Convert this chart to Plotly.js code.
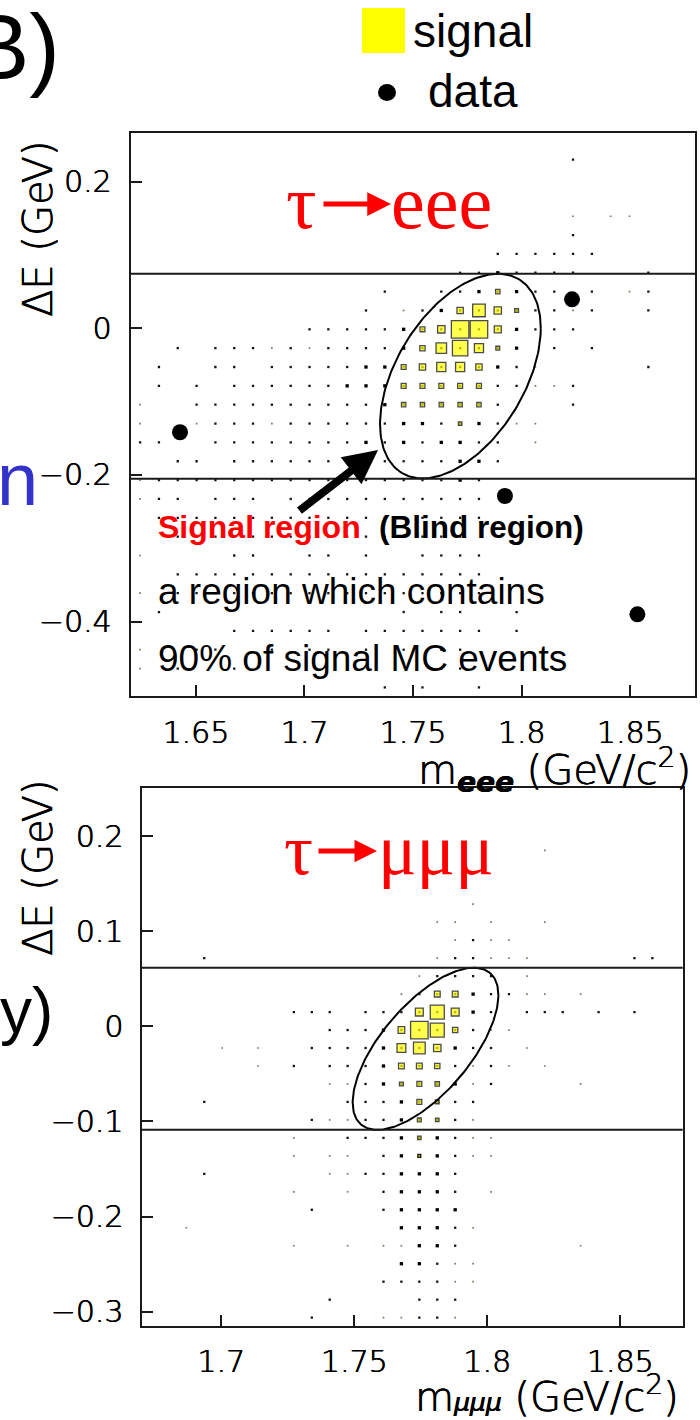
<!DOCTYPE html>
<html>
<head>
<meta charset="utf-8">
<script src="https://cdn.plot.ly/plotly-3.0.1.min.js"></script>
<style>
  html, body { margin: 0; padding: 0; background: #ffffff; }
  #plot { width: 700px; height: 1420px; }
</style>
</head>
<body>
<div id="plot"></div>
<script>
// ---------------- τ → eee : ΔE versus m(eee) ----------------
const eeeMassRange = [1.62, 1.88];
const eeeDeltaERange = [-0.5014, 0.2667];
const eeeMassTicks = [1.65, 1.7, 1.75, 1.8, 1.85];
const eeeDeltaETicks = [-0.4, -0.2, 0, 0.2];
const eeeDeltaELabels = ['\u22120.4', '\u22120.2', '0', '0.2'];
// histogram binning: 30 × 30 cells, rows counted from the row at ΔE ≈ 0
const eeeBinsM = { start: 1.62, width: 0.008667 };
const eeeBinsE = { zeroRow: -0.0014, width: 0.0257, topRow: 10 };
// background MC occupancy per cell (0 empty, 1 faint, 2 normal, 3 dense), rows top → bottom
const eeeBackground = [
  "0000000000 0000000000 0000000000",
  "0000000000 0000000000 0002000000",
  "0000000000 0000000000 0000000000",
  "0000000000 0000000000 0000000000",
  "0000000000 0000000000 0001011000",
  "0000000000 0000000000 0002000000",
  "0000000000 0000000002 2222200000",
  "0000000000 0000000223 2222000200",
  "0000000000 0002002232 3220201200",
  "0000000000 0020123222 2221200200",
  "0000000002 2222322222 3222000000",
  "0020222121 2222322222 3020200000",
  "0200220222 2233222223 2100000200",
  "0202022222 2333222222 2112000000",
  "1002222222 2223222222 0002000000",
  "1001222122 2222332232 1100000000",
  "2200222222 2232323322 0100000000",
  "0022022222 2222222332 0000000000",
  "1222222222 2222222320 0000000000",
  "1220222022 2222222220 0000000000",
  "0222222222 2222222220 0000000000",
  "0022222222 2222222200 0000000000",
  "1000022002 2020022220 0000000000",
  "0022222222 2222222220 0000000000",
  "1022222222 2222222220 0000000000",
  "0200000000 0000202200 2000000000",
  "0000022222 2022222220 2000000000",
  "1002200202 2020202200 0000000000",
  "1020020000 0000002200 0000000000",
  "0000000000 0002020020 0000000000"
];
// signal MC cells: [column, row, relative content]
const eeeSignal = [
  [17, 0, 100], [18, 0, 100], [17, -1, 88], [18, 1, 72], [16, -1, 60],
  [16, -2, 52], [17, -2, 52], [18, -1, 52], [16, 0, 42], [19, 0, 40],
  [19, 1, 42], [17, 1, 36], [15, -1, 30], [15, -2, 36], [18, -2, 36],
  [15, 0, 28], [14, -2, 28], [14, -3, 28], [15, -3, 28], [16, -3, 28],
  [17, -3, 28], [18, -3, 28], [14, -4, 25], [15, -4, 25], [16, -4, 25],
  [17, -4, 25], [18, -4, 25], [19, -1, 22], [19, 2, 25], [20, 1, 22],
  [17, -5, 20]
];
// observed events outside the blind box
const eeeDataMass = [1.6427, 1.8232, 1.7923, 1.8533];
const eeeDataDeltaE = [-0.1418, 0.0395, -0.2287, -0.3900];
// signal region boundaries and the 90% ellipse
const eeeBand = [-0.2050, 0.0745];
const eeeEllipse = { m: 1.7718, dE: -0.0652, halfM: 0.0370, halfDE: 0.1395, rho: 0.469 };

// ---------------- τ → μμμ : ΔE versus m(μμμ) ----------------
const mmmMassRange = [1.67, 1.8735];
const mmmDeltaERange = [-0.3151, 0.2506];
const mmmMassTicks = [1.7, 1.75, 1.8, 1.85];
const mmmDeltaETicks = [-0.3, -0.2, -0.1, 0, 0.1, 0.2];
const mmmDeltaELabels = ['\u22120.3', '\u22120.2', '\u22120.1', '0', '0.1', '0.2'];
const mmmBinsM = { start: 1.67, width: 0.00674 };
const mmmBinsE = { zeroRow: -0.0039, width: 0.0189, topRow: 13 };
const mmmBackground = [
  "0000000000 0000000000 0000000000",
  "0000000000 0000000000 0000000000",
  "0000000000 0000000000 0000000000",
  "0000000000 0000000000 0010000000",
  "0000000000 0000000000 0000000000",
  "0000000000 0000000000 0000000000",
  "0000000000 0000000010 0000000000",
  "0000000000 0000001101 0010000000",
  "0000000000 0000000121 1000000000",
  "0002000000 0000001221 1100000220",
  "0000000000 0000012222 0100000000",
  "0000000000 0000122232 2110100000",
  "0000000022 2022222232 0222020200",
  "0000000000 2223222221 1000000000",
  "0000101002 2223222322 0100000000",
  "0000001020 2223222212 1010000000",
  "0000000000 1123222312 0000100000",
  "0002000000 0222323220 0000000000",
  "0000000002 1122322210 0000000000",
  "0000000010 0222323211 0000000000",
  "0000000010 1102333211 0000000000",
  "0002000000 1122333200 0000000000",
  "0000000010 0102333201 0000000000",
  "0000000002 0002333300 0000000000",
  "0010000000 0000333210 0000000000",
  "0000000010 0101133200 0000100000",
  "0000000000 0000332110 0000000000",
  "0000000000 0002222110 0000000000",
  "0000000000 2000022200 0000000000",
  "0000000002 0001122100 0000000000"
];
const mmmSignal = [
  [15, 0, 100], [16, 1, 80], [16, 0, 80], [15, -1, 67], [14, -1, 50],
  [15, 1, 45], [17, 1, 45], [14, 0, 38], [16, -1, 42], [17, 0, 30],
  [16, 2, 33], [17, 2, 33], [14, -2, 33], [15, -2, 33], [16, -2, 30],
  [14, -3, 22], [15, -3, 28], [16, -3, 25], [15, -4, 28], [16, -4, 22],
  [15, -5, 22], [16, -5, 20], [15, -6, 20], [15, -7, 18]
];
const mmmBand = [-0.1088, 0.0616];
const mmmEllipse = { m: 1.7768, dE: -0.0236, halfM: 0.0274, halfDE: 0.0852, rho: 0.662 };

// ---------------- drawing helpers ----------------
const W = 700, H = 1420;
const px = v => v / W;            // horizontal pixel → paper
const py = v => 1 - v / H;        // vertical pixel → paper

const dotStyle = {
  1: { size: 1.7, color: '#7a7a5c' },
  2: { size: 2.3, color: '#141414' },
  3: { size: 3.3, color: '#000000' }
};

function backgroundTraces(rows, bm, be, xa, ya) {
  const pts = { 1: { x: [], y: [] }, 2: { x: [], y: [] }, 3: { x: [], y: [] } };
  rows.forEach((row, r) => {
    const cells = row.replace(/ /g, '');
    const k = be.topRow - r;
    for (let i = 0; i < cells.length; i++) {
      const lv = Number(cells[i]);
      if (lv > 0) {
        pts[lv].x.push(bm.start + (i + 0.5) * bm.width);
        pts[lv].y.push(be.zeroRow + k * be.width);
      }
    }
  });
  return [1, 2, 3].map(lv => ({
    type: 'scatter', mode: 'markers', xaxis: xa, yaxis: ya,
    x: pts[lv].x, y: pts[lv].y, hoverinfo: 'skip',
    marker: { symbol: 'square', size: dotStyle[lv].size, color: dotStyle[lv].color, line: { width: 0 } }
  }));
}

function signalTrace(cells, bm, be, xa, ya) {
  return {
    type: 'scatter', mode: 'markers', xaxis: xa, yaxis: ya, hoverinfo: 'skip',
    x: cells.map(c => bm.start + (c[0] + 0.5) * bm.width),
    y: cells.map(c => be.zeroRow + c[1] * be.width),
    marker: {
      symbol: 'square', color: '#ffff00',
      size: cells.map(c => c[2] / 100 * 17.5),
      line: { color: '#000000', width: 1.3 }
    }
  };
}

function ellipseTrace(e, xa, ya) {
  const x = [], y = [], s = Math.sqrt(1 - e.rho * e.rho);
  for (let n = 0; n <= 240; n++) {
    const t = 2 * Math.PI * n / 240;
    x.push(e.m + e.halfM * Math.cos(t));
    y.push(e.dE + e.halfDE * (e.rho * Math.cos(t) + s * Math.sin(t)));
  }
  return { type: 'scatter', mode: 'lines', x, y, xaxis: xa, yaxis: ya, hoverinfo: 'skip',
           line: { color: '#000000', width: 2 } };
}

const traces = [
  ...backgroundTraces(eeeBackground, eeeBinsM, eeeBinsE, 'x', 'y'),
  signalTrace(eeeSignal, eeeBinsM, eeeBinsE, 'x', 'y'),
  ellipseTrace(eeeEllipse, 'x', 'y'),
  { type: 'scatter', mode: 'markers', x: eeeDataMass, y: eeeDataDeltaE, xaxis: 'x', yaxis: 'y',
    hoverinfo: 'skip', marker: { symbol: 'circle', size: 16, color: '#000000' } },
  ...backgroundTraces(mmmBackground, mmmBinsM, mmmBinsE, 'x2', 'y2'),
  signalTrace(mmmSignal, mmmBinsM, mmmBinsE, 'x2', 'y2'),
  ellipseTrace(mmmEllipse, 'x2', 'y2')
];

const thinInk = '0.45px 0 0 #000, -0.3px 0 0 #000';
const tickFont = { family: 'DejaVu Sans', size: 30, color: '#000000', weight: 200, shadow: thinInk };
const titleFont = { family: 'DejaVu Sans', size: 40, color: '#000000', weight: 200, shadow: thinInk };
const sansFont = size => ({ family: 'Liberation Sans', size, color: '#000000' });
const serifRed = size => ({ family: 'Liberation Serif', size, color: '#ff0000' });

function axisBase(extra) {
  return Object.assign({
    showline: true, linecolor: '#1a1a1a', linewidth: 2, mirror: true,
    ticks: 'inside', ticklen: 11, tickwidth: 2, tickcolor: '#1a1a1a',
    showgrid: false, zeroline: false, fixedrange: true, tickfont: tickFont
  }, extra);
}

function note(text, x, y, xanchor, font, extra) {
  return Object.assign({ text, x: px(x), y: py(y), xref: 'paper', yref: 'paper',
    xanchor, yanchor: 'middle', showarrow: false, font }, extra || {});
}

// a bare arrow drawn in page pixels, from (x0, y) to the tip (x1, y)
function titleArrow(x0, x1, y, width, size) {
  return { text: '', xref: 'paper', yref: 'paper', x: px(x1), y: py(y), ax: x0 - x1, ay: 0,
    showarrow: true, arrowhead: 2, arrowwidth: width, arrowsize: size, arrowcolor: '#ff0000', standoff: 0 };
}

const annotations = [
  note('B)', 62, 47, 'right', sansFont(92)),
  note('signal', 411, 31, 'left', sansFont(46)),
  note('data', 426, 91, 'left', sansFont(46)),
  note('n', 40, 479, 'right', { family: 'Liberation Sans', size: 74, color: '#3333cc' }),
  note('y)', 55, 1011, 'right', sansFont(64)),
  // τ → eee
  note('\u03c4', 319, 202, 'right', serifRed(76)),
  titleArrow(322, 391, 204, 5, 0.95),
  note('eee', 389, 202, 'left', serifRed(76)),
  // τ → μμμ
  note('\u03c4', 315, 850, 'right', serifRed(72)),
  titleArrow(317, 377, 851, 5, 0.9),
  note('\u03bc\u03bc\u03bc', 376, 850, 'left', serifRed(72)),
  note('\u0394E (GeV)', 38, 229, 'center', titleFont, { textangle: -90 }),
  note('\u0394E (GeV)', 38, 868, 'center', titleFont, { textangle: -90 }),
  note('m<sub><b><i>eee</i></b></sub> (GeV/c<sup>2</sup>)', 693, 770, 'right', titleFont),
  note('m<span style="font-size:25px"><i>\u03bc\u03bc\u03bc</i></span> (GeV/c<sup>2</sup>)', 681, 1394, 'right', titleFont),
  note('<b>Signal region</b>', 156, 527, 'left', { family: 'Liberation Sans', size: 32, color: '#ff0000' }),
  note('<b>(Blind region)</b>', 377, 527, 'left', sansFont(31.5)),
  note('a region which contains', 156, 591, 'left', sansFont(37)),
  note('90% of signal MC events', 156, 658, 'left', sansFont(37)),
  { text: '', xref: 'x', yref: 'y', axref: 'x', ayref: 'y',
    x: 1.7339, y: -0.1660, ax: 1.6970, ay: -0.2501,
    showarrow: true, arrowhead: 2, arrowwidth: 8, arrowsize: 0.85, arrowcolor: '#000000', standoff: 0 }
];

const shapes = [
  { type: 'line', xref: 'x domain', yref: 'y', x0: 0, x1: 1, y0: eeeBand[0], y1: eeeBand[0], line: { color: '#1a1a1a', width: 2 } },
  { type: 'line', xref: 'x domain', yref: 'y', x0: 0, x1: 1, y0: eeeBand[1], y1: eeeBand[1], line: { color: '#1a1a1a', width: 2 } },
  { type: 'line', xref: 'x2 domain', yref: 'y2', x0: 0, x1: 1, y0: mmmBand[0], y1: mmmBand[0], line: { color: '#1a1a1a', width: 2 } },
  { type: 'line', xref: 'x2 domain', yref: 'y2', x0: 0, x1: 1, y0: mmmBand[1], y1: mmmBand[1], line: { color: '#1a1a1a', width: 2 } },
  // legend swatches
  { type: 'rect', xref: 'paper', yref: 'paper', x0: px(362), x1: px(405), y0: py(53), y1: py(8),
    fillcolor: '#ffff00', line: { width: 0 } },
  { type: 'circle', xref: 'paper', yref: 'paper', x0: px(378), x1: px(396), y0: py(101), y1: py(84),
    fillcolor: '#000000', line: { width: 0 } }
];

const layout = {
  width: W, height: H,
  margin: { l: 0, r: 0, t: 0, b: 0 },
  paper_bgcolor: '#ffffff', plot_bgcolor: '#ffffff',
  showlegend: false,
  xaxis: axisBase({ domain: [px(130.7), px(695.4)], range: eeeMassRange, anchor: 'y',
    tickvals: eeeMassTicks, ticktext: eeeMassTicks.map(String), ticklabelstandoff: 9 }),
  yaxis: axisBase({ domain: [py(696), py(132.7)], range: eeeDeltaERange, anchor: 'x',
    tickvals: eeeDeltaETicks, ticktext: eeeDeltaELabels, ticklabelstandoff: 11 }),
  xaxis2: axisBase({ domain: [px(141.5), px(682.7)], range: mmmMassRange, anchor: 'y2',
    tickvals: mmmMassTicks, ticktext: mmmMassTicks.map(String), ticklabelstandoff: 8 }),
  yaxis2: axisBase({ domain: [py(1326), py(788)], range: mmmDeltaERange, anchor: 'x2',
    tickvals: mmmDeltaETicks, ticktext: mmmDeltaELabels, ticklabelstandoff: 10 }),
  annotations, shapes
};

Plotly.newPlot('plot', traces, layout, { displayModeBar: false, staticPlot: true });
</script>
</body>
</html>
